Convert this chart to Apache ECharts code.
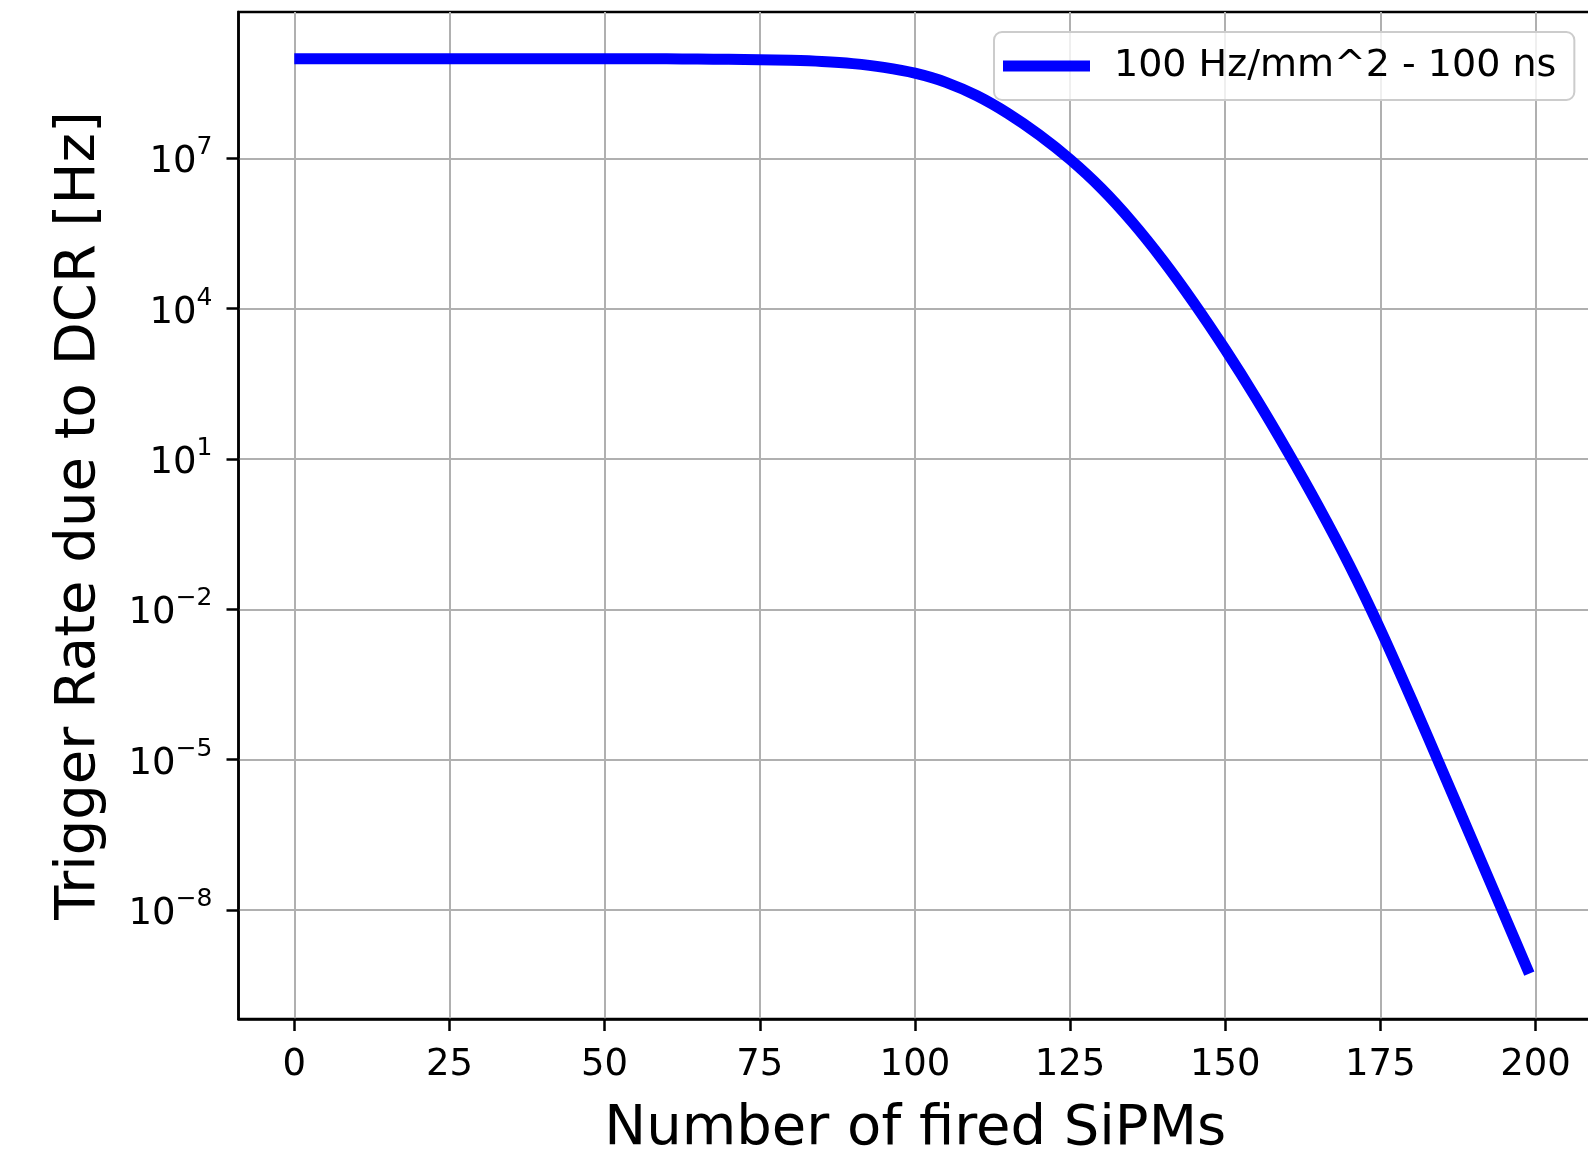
<!DOCTYPE html>
<html>
<head>
<meta charset="utf-8">
<script src="https://cdn.jsdelivr.net/npm/echarts@6/dist/echarts.min.js"></script>
<style>
html,body{margin:0;padding:0;background:#fff;overflow:hidden;}
#chart{width:1588px;height:1151px;}
</style>
</head>
<body>
<div id="chart"></div>
<script>
// Number of fired SiPMs (x) and trigger rate in Hz (y)
const firedSiPMs = [0,10,20,30,40,50,60,65,70,75,80,85,90,95,100,105,110,115,120,125,130,135,140,145,150,155,160,165,170,175,180,185,190,195,199];
const triggerRateHz = [9.66e8,9.66e8,9.66e8,9.66e8,9.66e8,9.66e8,9.66e8,9.59e8,9.48e8,9.31e8,9.04e8,8.57e8,7.76e8,6.53e8,5.01e8,3.29e8,1.77e8,7.85e7,2.95e7,9.50e6,2.54e6,5.37e5,9.12e4,1.28e4,1.54e3,1.61e2,1.45e1,1.15,7.67e-2,3.96e-3,1.62e-4,5.99e-6,2.16e-7,7.72e-9,5.37e-10];
const xTicks = [0,25,50,75,100,125,150,175,200];
const yTickExponents = [-8,-5,-2,1,4,7];
const seriesName = '100 Hz/mm^2 - 100 ns';

const FONT = 'DejaVu Sans';
const chart = echarts.init(document.getElementById('chart'), null, {renderer: 'canvas'});

const seriesData = firedSiPMs.map((n, i) => [n, Math.log10(triggerRateHz[i])]);

function expLabel(v) {
  const e = Math.round(v);
  const s = e < 0 ? '\u2212' + (-e) : String(e);
  return '{b|10}{s|' + s + '}';
}

chart.setOption({
  animation: false,
  backgroundColor: '#ffffff',
  grid: {
    left: 238.5, top: 12, width: 1353.5, height: 1007,
    outerBoundsMode: 'none', containLabel: false,
    show: true, borderColor: '#000', borderWidth: 2.5, backgroundColor: 'transparent'
  },
  legend: {
    left: 994, top: 32,
    padding: [15, 18, 15, 9],
    backgroundColor: 'rgba(255,255,255,0.8)',
    borderColor: '#cccccc', borderWidth: 2, borderRadius: 8,
    icon: 'rect', itemWidth: 87, itemHeight: 11,
    textStyle: {fontFamily: FONT, fontSize: 38, color: '#000', padding: [0, 0, 0, 19]},
    data: [seriesName]
  },
  xAxis: {
    type: 'value', min: -8.99, max: 209.1,
    name: 'Number of fired SiPMs', nameLocation: 'middle', nameGap: 82,
    nameTextStyle: {fontFamily: FONT, fontSize: 56, color: '#000'},
    axisLine: {show: true, onZero: false, lineStyle: {color: '#000', width: 2.5}},
    axisTick: {show: true, length: 12, lineStyle: {color: '#000', width: 2.5}, customValues: xTicks},
    axisLabel: {fontFamily: FONT, fontSize: 37, color: '#000', margin: 28, customValues: xTicks},
    splitLine: {show: true, lineStyle: {color: '#b0b0b0', width: 2}}
  },
  yAxis: {
    type: 'value', min: -10.175, max: 9.92,
    name: 'Trigger Rate due to DCR [Hz]', nameLocation: 'middle', nameGap: 131,
    nameTextStyle: {fontFamily: FONT, fontSize: 56, color: '#000'},
    axisLine: {show: true, onZero: false, lineStyle: {color: '#000', width: 2.5}},
    axisTick: {show: true, length: 12, lineStyle: {color: '#000', width: 2.5}, customValues: yTickExponents},
    axisLabel: {
      margin: 26, customValues: yTickExponents,
      formatter: expLabel,
      rich: {
        b: {fontFamily: FONT, fontSize: 37, color: '#000', lineHeight: 46, verticalAlign: 'bottom'},
        s: {fontFamily: FONT, fontSize: 25, color: '#000', lineHeight: 25, verticalAlign: 'top'}
      }
    },
    splitLine: {show: true, lineStyle: {color: '#b0b0b0', width: 2}}
  },
  series: [{
    name: seriesName,
    type: 'line',
    data: seriesData,
    smooth: 0.3,
    showSymbol: false,
    lineStyle: {color: '#0000ff', width: 11},
    itemStyle: {color: '#0000ff'},
    z: 3
  }]
});
</script>
</body>
</html>
